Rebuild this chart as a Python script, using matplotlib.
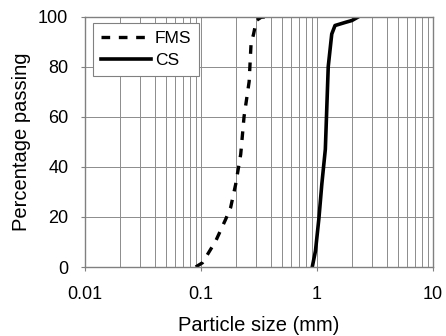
import matplotlib
matplotlib.use("Agg")
import matplotlib.pyplot as plt
from matplotlib.ticker import LogLocator, FixedLocator, FixedFormatter

plt.rcParams['font.family'] = ['Liberation Sans', 'DejaVu Sans']

# FMS grading curve
fms_size = [0.09, 0.103, 0.134, 0.163, 0.18, 0.199, 0.22, 0.235, 0.26, 0.27, 0.284, 0.30, 0.33, 0.41]
fms_pass = [0, 1.7, 10.4, 19, 23.7, 33, 45, 60, 74, 89, 93, 98.4, 99.7, 100]

# CS grading curve
cs_size = [0.91, 0.97, 1.04, 1.10, 1.18, 1.25, 1.34, 1.43, 1.77, 2.0, 2.3]
cs_pass = [0, 6.4, 19.7, 33, 47, 80, 93, 96.4, 97.7, 98.4, 100]

x_ticks = [0.01, 0.1, 1, 10]
x_labels = ['0.01', '0.1', '1', '10']
y_ticks = [0, 20, 40, 60, 80, 100]

fig = plt.figure(figsize=(4.46, 3.36), dpi=100)
ax = fig.add_axes([85 / 446, 1 - 267 / 336, (433 - 85) / 446, (267 - 16.5) / 336])

ax.plot(fms_size, fms_pass, color='black', lw=2.4, ls=(0, (2.6, 2.6)), label='FMS')
ax.plot(cs_size, cs_pass, color='black', lw=2.6, label='CS')

ax.set_xscale('log')
ax.set_xlim(0.01, 10)
ax.set_ylim(0, 100)
ax.xaxis.set_major_locator(FixedLocator(x_ticks))
ax.xaxis.set_major_formatter(FixedFormatter(x_labels))
ax.xaxis.set_minor_locator(LogLocator(base=10, subs=range(2, 10)))
ax.set_yticks(y_ticks)

ax.grid(True, which='both', axis='x', color='#8c8c8c', lw=0.7)
ax.grid(True, which='major', axis='y', color='#8c8c8c', lw=0.7)
ax.set_axisbelow(True)
for s in ax.spines.values():
    s.set_color('#808080')
    s.set_linewidth(1.0)

ax.tick_params(axis='both', which='major', direction='out', length=3, color='#808080',
               labelsize=13)
ax.tick_params(axis='x', which='major', pad=11)
ax.tick_params(axis='y', which='major', pad=9)
ax.tick_params(axis='x', which='minor', length=0)

ax.set_xlabel('Particle size (mm)', fontsize=14.5, labelpad=9)
ax.set_ylabel('Percentage passing', fontsize=14.5, labelpad=5)

leg = ax.legend(loc='upper left', bbox_to_anchor=(0.023, 0.973), fontsize=12.5,
                frameon=True, fancybox=False, handlelength=2.9, handletextpad=0.2,
                borderpad=0.45, labelspacing=0.4, borderaxespad=0)
leg.get_frame().set_edgecolor('#808080')
leg.get_frame().set_linewidth(0.8)
leg.get_frame().set_alpha(1)

fig.savefig('out.png', dpi=100)
